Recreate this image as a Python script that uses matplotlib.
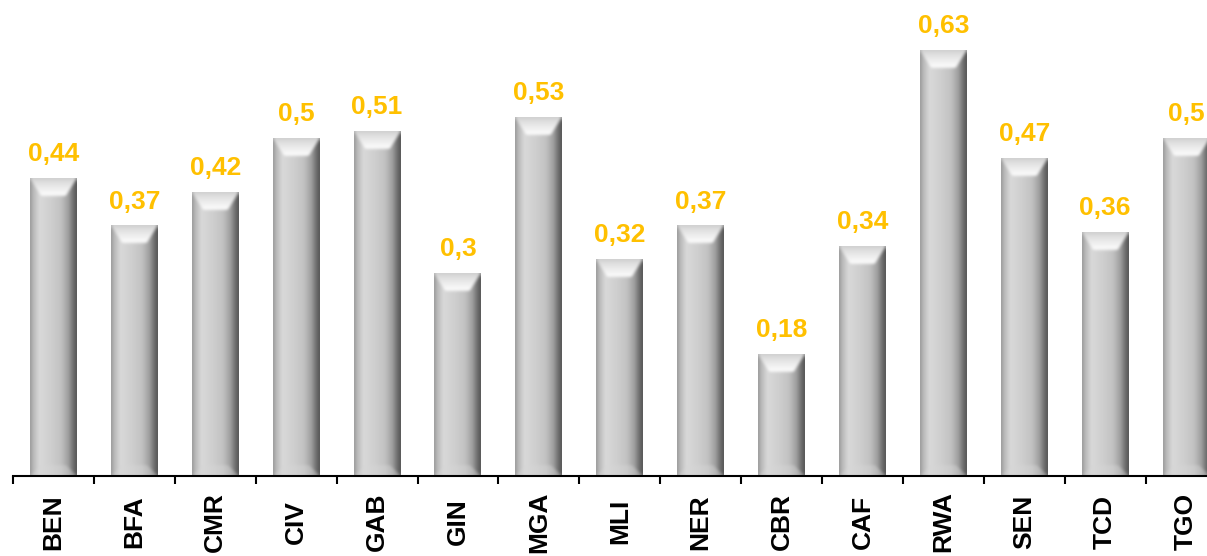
import numpy as np
import matplotlib
matplotlib.use("Agg")
import matplotlib.pyplot as plt

categories = ["BEN", "BFA", "CMR", "CIV", "GAB", "GIN", "MGA", "MLI",
              "NER", "CBR", "CAF", "RWA", "SEN", "TCD", "TGO"]
values = [0.44, 0.37, 0.42, 0.50, 0.51, 0.30, 0.53, 0.32,
          0.37, 0.18, 0.34, 0.63, 0.47, 0.36, 0.50]

FIG_W, FIG_H, DPI = 1207, 556, 100
FONT = "Liberation Sans"
GOLD = "#FFC000"

fig = plt.figure(figsize=(FIG_W / DPI, FIG_H / DPI), dpi=DPI)
fig.patch.set_facecolor("white")

# geometry in pixels: baseline, slot width, scale of one value unit
base_px = 476.0
slot_px = 80.9
left_px = 13.0
unit_px = 676.0
n = len(categories)
ax = fig.add_axes([left_px / FIG_W, (FIG_H - base_px) / FIG_H,
                   slot_px * n / FIG_W, base_px / FIG_H])
ax.set_xlim(-0.5, n - 0.5)
ax.set_ylim(0, base_px / unit_px)


def box_blur(a, k=1):
    p = np.pad(a, k, mode="edge")
    out = np.zeros_like(a)
    for dy in range(-k, k + 1):
        for dx in range(-k, k + 1):
            out += p[k + dy:k + dy + a.shape[0], k + dx:k + dx + a.shape[1]]
    return out / (2 * k + 1) ** 2


def bevel_bar(w, h):
    """Grey cylinder-like bar with a bevelled top and bottom."""
    x = np.arange(w) + 0.5
    y = np.arange(h) + 0.5
    X, Y = np.meshgrid(x, y)
    u = X / w
    pu = [0.0, 0.05, 0.20, 0.45, 0.66, 0.82, 0.93, 1.0]
    pv = [0.58, 0.70, 0.85, 0.81, 0.76, 0.62, 0.42, 0.33]
    body = np.interp(u, pu, pv)
    side = np.minimum(X, w - X)
    dt, db = Y, h - Y
    bs, bt, bb = 12.0, 19.0, 12.0
    # top chamfer: soft light face that brightens to white at its lower edge
    s_top = np.clip((side / bs - dt / bt) * 4.0 + 0.5, 0, 1)
    in_top = np.clip((bt - dt) / 2.5, 0, 1)
    t = np.clip(dt / bt, 0, 1)
    top_col = 0.80 + 0.20 * t ** 0.7
    wt = s_top * in_top
    g = body * (1 - wt) + top_col * wt
    # bottom chamfer: slightly lighter inner face
    s_bot = np.clip((side / bs - db / bb) * 4.0 + 0.5, 0, 1)
    in_bot = np.clip((bb - db) / 2.5, 0, 1)
    wb = s_bot * in_bot * (1 - wt)
    g = g * (1 - wb) + (g + (0.84 - g) * 0.45) * wb
    g = np.clip(box_blur(box_blur(g, 1), 1), 0, 1)
    return np.dstack([g, g, g, np.ones_like(g)])


bars = ax.bar(np.arange(n), values, width=0.58, color="none",
              edgecolor="none", zorder=2)
for rect in bars:
    x0, w, h = rect.get_x(), rect.get_width(), rect.get_height()
    p0 = ax.transData.transform((x0, 0))
    p1 = ax.transData.transform((x0 + w, h))
    wpx = max(int(round(p1[0] - p0[0])), 2)
    hpx = max(int(round(p1[1] - p0[1])), 2)
    ax.imshow(bevel_bar(wpx, hpx), extent=(x0, x0 + w, 0, h),
              aspect="auto", interpolation="bilinear", zorder=2)

ax.set_xlim(-0.5, n - 0.5)
ax.set_ylim(0, base_px / unit_px)

for i, v in enumerate(values):
    ax.annotate(f"{v:g}".replace(".", ","), (i, v), xytext=(0, 12.5),
                textcoords="offset points", ha="center", va="baseline",
                color=GOLD, fontsize=19, fontweight="bold", family=FONT)

# axis: boundary ticks, category names centred below
for s in ("left", "right", "top"):
    ax.spines[s].set_visible(False)
ax.spines["bottom"].set_linewidth(1.5)
ax.spines["bottom"].set_color("black")
ax.set_yticks([])
ax.set_xticks(np.arange(-0.5, n, 1.0))
ax.set_xticklabels([])
ax.tick_params(axis="x", which="major", direction="out", length=6,
               width=1.5, color="black")
ax.set_xticks(np.arange(n), minor=True)
ax.set_xticklabels(categories, minor=True, rotation=90, fontsize=19,
                   fontweight="bold", family=FONT, color="black")
ax.tick_params(axis="x", which="minor", length=0, pad=33)
for lbl in ax.get_xticklabels(minor=True):
    lbl.set_va("center")
ax.set_facecolor("white")

fig.savefig("out.png", dpi=DPI, facecolor="white")
